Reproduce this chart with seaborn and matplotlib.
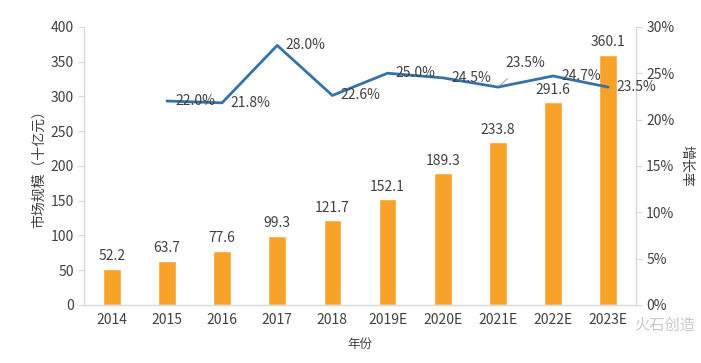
import numpy as np
import pandas as pd
import matplotlib
matplotlib.use("Agg")
import matplotlib.pyplot as plt
import seaborn as sns

years = ["2014", "2015", "2016", "2017", "2018", "2019E", "2020E", "2021E", "2022E", "2023E"]
market_size = [52.2, 63.7, 77.6, 99.3, 121.7, 152.1, 189.3, 233.8, 291.6, 360.1]
growth_years = years[1:]
growth_rate = [22.0, 21.8, 28.0, 22.6, 25.0, 24.5, 23.5, 24.7, 23.5]

sns.set_theme(style="white")
plt.rcParams['font.family'] = ['Noto Sans CJK SC', 'DejaVu Sans']

text_color = "#404040"
bar_color = "#F9A22A"
line_color = "#3473A8"
axis_color = "#D9D9D9"

df_bar = pd.DataFrame({"year": years, "size": market_size})
df_line = pd.DataFrame({"pos": [years.index(y) for y in growth_years], "rate": growth_rate})

fig = plt.figure(figsize=(7.01, 3.63), dpi=100)
ax = fig.add_axes([0.12, 0.16, 0.787, 0.766])

sns.barplot(data=df_bar, x="year", y="size", color=bar_color, width=0.32,
            saturation=1, ax=ax)
ax.set_xlim(-0.5, len(years) - 0.5)
ax.set_ylim(0, 400)
ax.set_yticks(range(0, 401, 50))
ax.set_xlabel("年份", fontsize=9, color=text_color, labelpad=8)
ax.set_ylabel("市场规模（十亿元）", fontsize=10, color=text_color, labelpad=3)

for i, v in enumerate(market_size):
    ax.text(i, v + 8, f"{v:.1f}", ha="center", va="bottom", fontsize=10, color=text_color)

ax2 = ax.twinx()
sns.lineplot(data=df_line, x="pos", y="rate", color=line_color, linewidth=2, ax=ax2)
ax2.set_ylim(0, 30)
ax2.set_yticks(range(0, 31, 5))
ax2.set_yticklabels([f"{t}%" for t in range(0, 31, 5)])
ax2.set_ylabel("增长率", fontsize=10, color=text_color, rotation=270, labelpad=14)
ax2.set_xlim(-0.5, len(years) - 0.5)

# Labels for the growth line
for k, (p, r) in enumerate(zip(df_line["pos"], growth_rate)):
    if growth_years[k] == "2021E":
        ax2.annotate(f"{r:.1f}%", xy=(p, r), xytext=(p + 0.5, r + 2.6),
                     ha="center", va="center", fontsize=10, color=text_color,
                     arrowprops=dict(arrowstyle="-", color="#A6A6A6", lw=0.8,
                                     shrinkA=6, shrinkB=2))
    else:
        ax2.annotate(f"{r:.1f}%", xy=(p, r), xytext=(6, 0), textcoords="offset points",
                     ha="left", va="center", fontsize=10, color=text_color)

for a in (ax, ax2):
    a.spines["top"].set_visible(False)
    for side in ("left", "right", "bottom"):
        a.spines[side].set_color(axis_color)
        a.spines[side].set_linewidth(1)
    a.tick_params(colors=text_color, labelsize=10, length=4, width=0.8)
    a.tick_params(axis="both", color=axis_color)
ax.tick_params(axis="x", length=0, pad=6)
ax2.tick_params(axis="x", length=0)
ax.spines["right"].set_visible(False)
ax2.spines["left"].set_visible(False)
ax2.spines["bottom"].set_visible(False)

# watermark
fig.text(0.905, 0.105, "火石创造", fontsize=11, color="#C8C8C8", ha="left", va="center")

fig.savefig("out.png", dpi=100)
